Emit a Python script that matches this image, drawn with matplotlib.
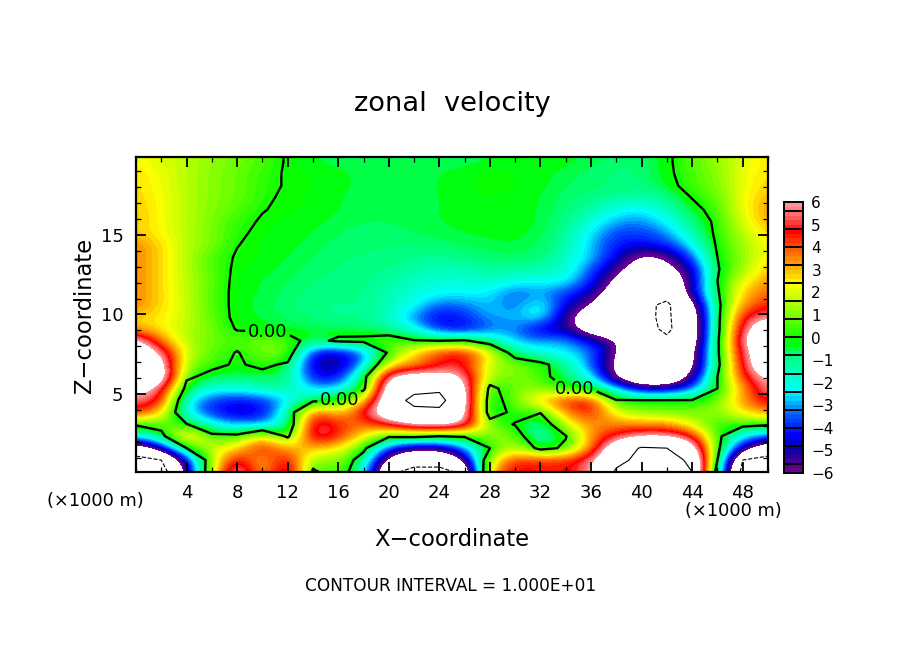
#!/usr/bin/env python3
import matplotlib
matplotlib.use('Agg')
from matplotlib import pyplot as plt
from matplotlib.colors import LinearSegmentedColormap, BoundaryNorm
from matplotlib.ticker import MultipleLocator
import numpy as np

W, H = 904, 654

x_km = [0, 2, 4, 6, 8, 10, 12, 14, 16, 18, 20, 22, 24, 26, 28, 30, 32, 34, 36, 38, 40, 42, 44, 46, 48, 50]
z_km = [0.1, 0.85, 1.6, 2.35, 3.1, 3.85, 4.6, 5.35, 6.1, 6.85, 7.6, 8.35, 9.1, 9.85,
        10.6, 11.35, 12.1, 12.85, 13.6, 14.35, 15.1, 15.85, 16.6, 17.35, 18.1, 18.85, 19.6, 20.35]

# one row per height, bottom first
u_rows = [
    [-12, -11.5, -5.5, 2, 7, 2.5, 6.5, -0.3, 1, -1.5, -9.5, -10.7, -10.7, -9.5, 3.5, 5, 4.5, 4.5, 5.5, 10.5, 12, 12, 10, -1, -11, -11.5],
    [-11, -10, -4.5, 1.5, 5.5, 2.5, 5.5, 0.8, 1.5, -1, -7, -9, -9, -6, 2, 4.5, 4.5, 4.5, 5.5, 9, 11, 11, 9.5, 0, -10, -11],
    [-8, -5, 0, 2, 2.5, 5, 3, 3, 2.5, 0.5, -4, -5.5, -5.5, -3, 0, 2, -0.6, 0.3, 3.5, 8, 10.3, 10, 7.5, 0.5, -5, -8],
    [-2, -0.7, 4, 0.5, 0.5, 3, -0.4, 5.8, 4.5, 2.5, 0.3, 0.5, 0, 0.2, 1.5, 1, -2, -0.1, 3.5, 5, 6, 6, 5, 0.5, -2.5, -3.5],
    [0.2, 0.8, 0.1, -2, -3, -3, -1.8, 5.8, 4.5, 3.5, 5, 6.5, 7, 6, 0.8, -0.1, -1.5, 2, 3.5, 3.5, 3.5, 3.5, 2, 0.1, 0.6, 0.3],
    [4.5, 3, -2.5, -4, -5, -4.5, -1.5, 4.5, 2.5, 5, 8, 9, 9.3, 7, -1, 0.5, 0.1, 3.5, 4.8, 2, 1.2, 1, 1, 1.2, 2.5, 3.5],
    [5.5, 5, -2.5, -3.8, -4.3, -4, -2.8, -0.4, 0, 2.5, 8, 11, 11, 7, -1, 1, 3, 4.7, 5, 0.1, 0.1, 0.1, 0.1, 0.8, 3.5, 5],
    [7, 5.5, -0.6, -2, -2, -1.5, -1, -2.8, -2.5, -0.5, 8, 9, 9.5, 7, -0.5, 1, 1.2, 0, -0.3, -2.5, -4.8, -4.8, -3.5, 0, 3.2, 6],
    [9, 8, 0.3, -0.5, -0.6, -0.6, -0.7, -4.5, -4.5, -0.8, 6.5, 7, 7, 6, 1.2, 1, 0.5, -0.8, -2, -6.5, -9, -9, -5.5, 0, 4.5, 6.5],
    [9.5, 7, 1.2, 0.4, -0.2, 0.4, -0.3, -5, -5.2, -3, 2.5, 3.2, 4.5, 5, 1.5, 1.2, 0.5, -1, -3.5, -6.5, -9, -9, -7, -0.5, 5, 8.5],
    [8, 6, 1.7, 0.8, -0.1, 1, 1.2, -4.5, -5, -3.5, 0.3, 2.8, 4.5, 5, 2.5, -1, -2, -2.5, -3, -6, -9, -9.5, -7, -0.3, 5.5, 8],
    [7, 3.5, 1.5, 0.8, 0.6, 1, 0.5, -0.5, 0.3, 0.4, 1, 0.1, 0, 0.2, -1, -3, -3, -2.8, -4.5, -5.8, -8, -9.5, -8, -0.3, 6, 9],
    [3, 2.5, 1.6, 0.9, -0.1, -0.3, -0.4, -0.5, -0.6, -0.7, -1.2, -2, -4.2, -4.6, -3.5, -3, -5, -5, -7.5, -8, -9, -10.5, -8, -0.5, 5.5, 8],
    [2.8, 2.5, 1.8, 0.7, -0.3, -0.4, -0.7, -0.8, -1.1, -1, -1.5, -3.2, -4.6, -4, -2.8, -3, -1.8, -5.5, -7.5, -9, -9.5, -10.4, -8, -0.5, 4.8, 5.8],
    [3.6, 2.7, 1.8, 0.6, -0.3, -0.5, -0.8, -0.9, -1.1, -0.9, -1.5, -2.2, -3.5, -3.3, -2.6, -3.5, -1.8, -4.5, -6, -8.5, -9.3, -10.5, -7, -0.5, 3.5, 4.5],
    [3.6, 2.7, 1.7, 0.6, -0.3, -0.4, -0.7, -0.9, -0.9, -1, -1.4, -1.8, -2.3, -2.3, -2.4, -3.6, -3, -3.8, -4.8, -7.5, -9, -9, -5, -0.2, 2.9, 3.9],
    [3.6, 2.7, 1.7, 0.7, -0.3, -0.4, -0.6, -0.8, -0.9, -0.9, -1.2, -1.6, -1.9, -1.8, -1.6, -2.2, -2.2, -2.2, -4, -6.5, -8.5, -8, -5.2, 0, 2.2, 3.5],
    [3.6, 2.7, 1.6, 0.6, -0.2, -0.3, -0.5, -0.7, -0.8, -0.9, -1, -1.3, -1.5, -1.4, -1.2, -1.2, -1.3, -1.7, -3.5, -5.5, -7.2, -6.7, -5, -0.1, 1.2, 3],
    [3.6, 2.7, 1.6, 0.5, -0.1, -0.2, -0.4, -0.6, -0.8, -0.8, -0.8, -1, -1.1, -0.9, -0.7, -0.6, -0.8, -1.6, -2.7, -4.4, -6.6, -6, -3.5, 0, 1.3, 2.5],
    [3.6, 2.7, 1.6, 1, 0.03, -0.3, -0.3, -0.5, -0.7, -0.8, -0.8, -0.8, -0.7, -0.6, -0.5, -0.4, -0.6, -1.2, -2.8, -4.2, -4.4, -4, -2.4, 0.2, 1.3, 2.4],
    [2.8, 2.4, 1.6, 1, 0.15, -0.2, -0.3, -0.4, -0.6, -0.7, -0.7, -0.6, -0.5, -0.4, -0.3, -0.3, -0.5, -1.1, -2.5, -3.8, -3.8, -3.2, -1.4, 0.3, 1.6, 2.8],
    [3, 2.3, 1.6, 1, 0.3, -0.1, -0.3, -0.3, -0.5, -0.6, -0.6, -0.5, -0.4, -0.3, -0.25, -0.25, -0.4, -0.9, -1.9, -3, -3.2, -2.3, -0.9, 0.3, 2, 3.2],
    [2.9, 2.3, 1.6, 1.1, 0.6, 0.05, -0.2, -0.2, -0.4, -0.5, -0.5, -0.5, -0.4, -0.3, -0.2, -0.25, -0.4, -0.8, -1.2, -2.1, -2.5, -1.5, -0.4, 0.5, 2.2, 3.4],
    [2.8, 2.3, 1.6, 1.1, 0.8, 0.2, -0.2, -0.2, -0.4, -0.5, -0.5, -0.5, -0.4, -0.3, -0.2, -0.25, -0.4, -0.7, -0.9, -1.1, -1.3, -1, 0.05, 0.7, 2.3, 3],
    [2.7, 2.2, 1.6, 1.1, 0.8, 0.3, -0.1, -0.2, -0.3, -0.5, -0.5, -0.5, -0.4, -0.2, -0.1, -0.2, -0.3, -0.6, -0.7, -0.8, -0.9, -0.4, 0.5, 1, 2.2, 2.8],
    [2.6, 2.2, 1.6, 1.1, 0.8, 0.3, -0.1, -0.2, -0.3, -0.5, -0.5, -0.5, -0.4, -0.3, -0.1, -0.2, -0.3, -0.5, -0.7, -0.9, -0.8, -0.2, 0.5, 1.1, 2.2, 2.6],
    [2.4, 2, 1.6, 1.2, 0.9, 0.5, -0.1, -0.4, -0.5, -0.5, -0.5, -0.5, -0.5, -0.5, -0.4, -0.2, -0.2, -0.3, -0.5, -0.7, -0.8, -0.2, 0.7, 1.3, 2, 2.6],
    [2.4, 2, 1.6, 1.2, 0.9, 0.5, -0.1, -0.4, -0.5, -0.5, -0.5, -0.5, -0.5, -0.5, -0.4, -0.2, -0.2, -0.3, -0.5, -0.7, -0.8, -0.2, 0.7, 1.3, 2, 2.6],
]

cbar_labels = [6, 5, 4, 3, 2, 1, 0, -1, -2, -3, -4, -5, -6]
x_tick_labels = [4, 8, 12, 16, 20, 24, 28, 32, 36, 40, 44, 48]
z_tick_labels = [5, 10, 15]

# colour stops
stop_vals = [-6, -5.4, -4.9, -4.4, -3.5, -3, -2.4, -1.8, -1.2, -0.6, -0.25, 0, 1, 1.8, 2.4, 3.2, 4, 4.8, 5.3, 6]
stop_cols = ['#6e0096', '#320096', '#0000b4', '#0000ff', '#005aff', '#00aaff', '#00ffff', '#00ffd0',
             '#00ffa0', '#00ff60', '#00ff00', '#10ff00', '#78ff00', '#c8ff00', '#ffff00', '#ffaa00',
             '#ff5a00', '#ff0000', '#ff5050', '#ff9696']

levels = np.arange(-6, 6.01, 0.2)
pos = [(v + 6) / 12 for v in stop_vals]
cmap = LinearSegmentedColormap.from_list('zonal', list(zip(pos, stop_cols)), N=len(levels) - 1)
cmap.set_over('white')
cmap.set_under('white')
norm = BoundaryNorm(levels, len(levels) - 1)


def axes_px(left, top, right, bottom):
    return [left / W, 1 - bottom / H, (right - left) / W, (bottom - top) / H]


def text_px(x, y, s, size, ha='center', rotation=0):
    fig.text(x / W, 1 - y / H, s, fontsize=size, ha=ha, va='center', rotation=rotation, color='black')


fig = plt.figure(figsize=(W / 100, H / 100), dpi=100)
ax = fig.add_axes(axes_px(136, 157, 768, 472))
u = np.array(u_rows)
dx = x_km[1] - x_km[0]
dz = z_km[1] - z_km[0]
ax.imshow(u, origin='lower', aspect='auto', cmap=cmap, norm=norm, interpolation='bicubic',
          interpolation_stage='data',
          extent=[x_km[0] - dx / 2, x_km[-1] + dx / 2, z_km[0] - dz / 2, z_km[-1] + dz / 2])
zero = ax.contour(x_km, z_km, u, levels=[0], colors='black', linewidths=1.7)
ax.contour(x_km, z_km, u, levels=[10], colors='black', linewidths=0.8)
ax.contour(x_km, z_km, u, levels=[-10], colors='black', linewidths=0.8, linestyles='dashed')
zero_labels = ax.clabel(zero, fmt='%.2f', fontsize=13, inline=True, inline_spacing=2,
                        manual=[(10.4, 8.7), (16, 4.9), (34.7, 5.4)])
for t in zero_labels:
    t.set_rotation(0)

ax.set_xlim(0, 50)
ax.set_ylim(0.1, 19.9)
ax.xaxis.set_minor_locator(MultipleLocator(2))
ax.yaxis.set_minor_locator(MultipleLocator(1))
ax.set_xticks(x_tick_labels)
ax.set_xticklabels([str(v) for v in x_tick_labels], fontsize=13)
ax.set_yticks(z_tick_labels)
ax.set_yticklabels([str(v) for v in z_tick_labels], fontsize=13)
ax.tick_params(which='major', direction='in', length=7, width=1.3, top=True, right=True, pad=9)
ax.tick_params(which='minor', direction='in', length=3.5, width=0.9, top=True, right=True)
for sp in ax.spines.values():
    sp.set_linewidth(1.6)

# colour bar, separators do not line up with the labels in the original
cax = fig.add_axes(axes_px(784, 202, 803, 473))
bar = np.linspace(-5.99, 5.99, 240)[:, None]
cax.imshow(bar, origin='lower', aspect='auto', cmap=cmap, norm=norm, extent=[0, 1, -6, 6], interpolation='nearest')
cax.hlines(np.linspace(-5.6, 5.61, 15), 0, 1, colors='black', linewidth=1.4)
cax.set_xticks([])
cax.set_yticks(cbar_labels)
cax.set_yticklabels([str(v).replace('-', '\u2212') for v in cbar_labels], fontsize=11)
cax.yaxis.tick_right()
cax.tick_params(axis='y', length=0, pad=6)
for sp in cax.spines.values():
    sp.set_linewidth(1.4)

text_px(452, 104, 'zonal  velocity', 19.6)
text_px(95, 501, '(\u00d71000 m)', 12.8)
text_px(733, 511, '(\u00d71000 m)', 12.8)
text_px(452, 539, 'X\u2212coordinate', 16.3)
text_px(84, 315, 'Z\u2212coordinate', 16.3, rotation=90)
text_px(451, 586, 'CONTOUR INTERVAL = 1.000E+01', 12.2)

fig.savefig('out.png', dpi=100)
